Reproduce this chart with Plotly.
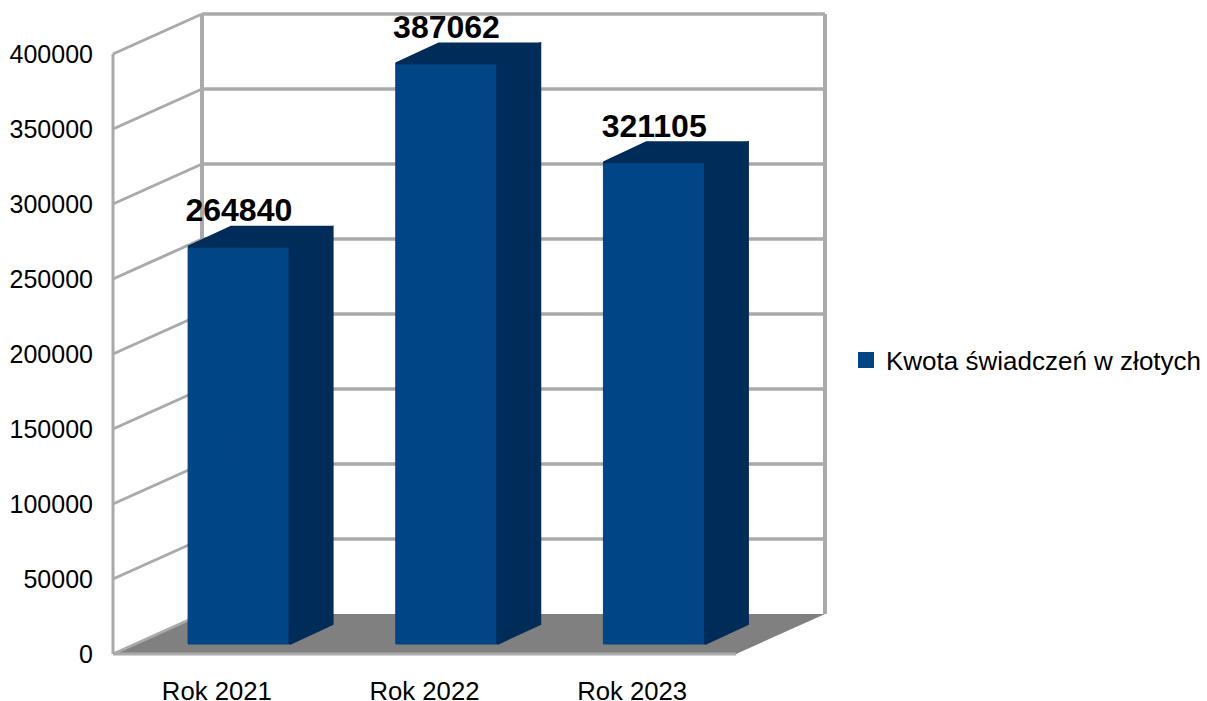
import plotly.graph_objects as go

categories = ["Rok 2021", "Rok 2022", "Rok 2023"]
values = [264840, 387062, 321105]
series_name = "Kwota świadczeń w złotych"
y_ticks = [0, 50000, 100000, 150000, 200000, 250000, 300000, 350000, 400000]

FRONT = "#004586"
DARK = "#002c59"
GRID = "#aaaaaa"
FLOOR = "#808080"
FONT = "Liberation Sans"

W, H = 1207, 701
PLOT_L, PLOT_R, PLOT_T, PLOT_B = 108, 830, 10, 658   # plot area in page px
ZERO_PX, LEFT_PX = 654, 113
X_UNIT = (736 - 113) / 3      # px per category
Y_UNIT = 600 / 400000         # px per value


def px_x(p):
    return p / X_UNIT


def px_y(p):
    return p / Y_UNIT


# depth offsets, in axis units
DX, DY = px_x(89), px_y(40)
BAR_DX1, BAR_DY1 = px_x(22), px_y(10)
BAR_DX2, BAR_DY2 = px_x(65), px_y(30)
BAR_W = px_x(101.5)
LABEL_DROP = px_y(2.5)

pos = list(range(len(categories)))
x_lo = -0.5
x_hi = x_lo + 3
y_top = y_ticks[-1]

fig = go.Figure()

# bars: front faces
fig.add_trace(go.Bar(
    x=[p + BAR_DX1 for p in pos], y=values, base=[BAR_DY1] * len(values),
    width=BAR_W, marker=dict(color=FRONT, line=dict(color=FRONT, width=1)),
    showlegend=False, hoverinfo="skip"))

# bars: side and top faces
for p, v in zip(pos, values):
    x1 = p + BAR_DX1 - BAR_W / 2
    x2 = p + BAR_DX1 + BAR_W / 2
    d = BAR_DX2 - BAR_DX1
    side_x = [x2, x2, x2 + d, x2 + d, x2]
    side_y = [BAR_DY1, v + BAR_DY1, v + BAR_DY2, BAR_DY2, BAR_DY1]
    top_x = [x1, x2, x2 + d, x1 + d, x1]
    top_y = [v + BAR_DY1, v + BAR_DY1, v + BAR_DY2, v + BAR_DY2, v + BAR_DY1]
    for xs, ys in ((side_x, side_y), (top_x, top_y)):
        fig.add_trace(go.Scatter(
            x=xs, y=ys, mode="lines", fill="toself", fillcolor=DARK,
            line=dict(color=DARK, width=2), showlegend=False,
            hoverinfo="skip", cliponaxis=False))

# data labels
fig.add_trace(go.Scatter(
    x=[p + BAR_DX1 for p in pos], y=[v + BAR_DY2 - LABEL_DROP for v in values],
    mode="text", text=[str(v) for v in values], textposition="top center",
    textfont=dict(family=FONT, size=32, color="#000000"),
    texttemplate="<b>%{text}</b>", showlegend=False, hoverinfo="skip",
    cliponaxis=False))

# legend entry: one marker sitting inside the first front face, same colour
fig.add_trace(go.Scatter(
    x=[pos[0] + BAR_DX1], y=[values[0] / 2], mode="markers", name=series_name,
    marker=dict(symbol="square", size=16, color=FRONT), hoverinfo="skip"))

# walls and floor
shapes = [dict(
    type="path", layer="below", xref="x", yref="y", line=dict(width=0),
    fillcolor=FLOOR,
    path=f"M{x_lo},0 L{x_lo + DX},{DY} L{x_hi + DX},{DY} L{x_hi},0 Z")]


def seg(x0, y0, x1, y1, w=3):
    shapes.append(dict(type="line", layer="below", xref="x", yref="y",
                       x0=x0, y0=y0, x1=x1, y1=y1,
                       line=dict(color=GRID, width=w)))


for t in y_ticks:
    seg(x_lo, t, x_lo + DX, t + DY, 3)
    if t > 0:
        seg(x_lo + DX, t + DY, x_hi + DX, t + DY, 3.5)
seg(x_lo, 0, x_hi, 0, 3)
seg(x_lo, 0, x_lo, y_top, 3)
seg(x_lo + DX, DY, x_lo + DX, y_top + DY, 4)
seg(x_hi + DX, DY, x_hi + DX, y_top + DY, 4)

fig.update_layout(
    width=W, height=H, paper_bgcolor="white", plot_bgcolor="white",
    margin=dict(l=PLOT_L, r=W - PLOT_R, t=PLOT_T, b=H - PLOT_B, pad=0, autoexpand=False),
    font=dict(family=FONT, size=25, color="#000000"),
    shapes=shapes, hovermode=False, barmode="overlay",
    legend=dict(x=846 / W, xref="container", y=1 - 360 / H, yref="container",
                yanchor="middle", xanchor="left",
                font=dict(family=FONT, size=26), itemsizing="trace",
                bgcolor="rgba(0,0,0,0)", borderwidth=0),
    xaxis=dict(
        domain=[0, 1],
        range=[x_lo - (LEFT_PX - PLOT_L) / X_UNIT, x_lo + (PLOT_R - LEFT_PX) / X_UNIT],
        tickmode="array", tickvals=pos, ticktext=categories,
        showgrid=False, zeroline=False, showline=False, ticks="",
        ticklabelstandoff=15, tickfont=dict(family=FONT, size=25.7)),
    yaxis=dict(
        domain=[0, 1],
        range=[-(PLOT_B - ZERO_PX) / Y_UNIT, (ZERO_PX - PLOT_T) / Y_UNIT],
        tickmode="array", tickvals=y_ticks, ticktext=[str(t) for t in y_ticks],
        showgrid=False, zeroline=False, showline=False, ticks="",
        ticklabelstandoff=14, tickfont=dict(family=FONT, size=25)),
)

fig.write_html("out.html", config={"displayModeBar": False},
               post_script="document.body.style.margin='0';")
